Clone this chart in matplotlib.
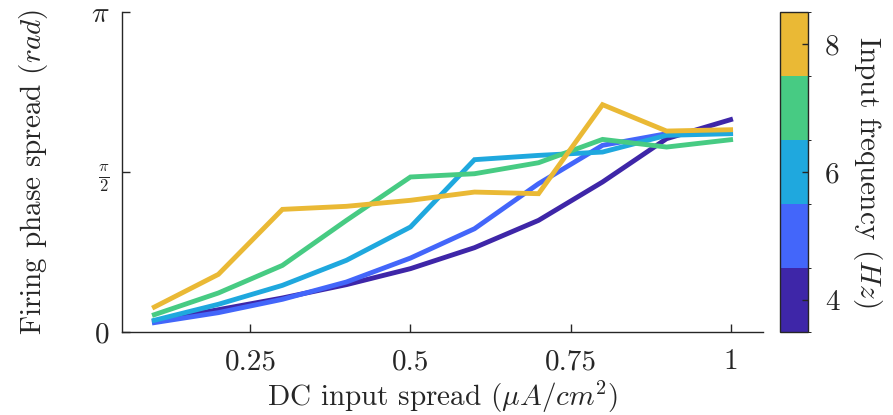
import numpy as np
import matplotlib
matplotlib.use("Agg")
import matplotlib.pyplot as plt
from matplotlib.colors import ListedColormap, BoundaryNorm
from matplotlib.cm import ScalarMappable

plt.rcParams['font.family'] = 'serif'
plt.rcParams['font.serif'] = ['cmr10', 'DejaVu Serif']
plt.rcParams['mathtext.fontset'] = 'cm'
plt.rcParams['axes.unicode_minus'] = False

# data
dc_spread = [0.1, 0.2, 0.3, 0.4, 0.5, 0.6, 0.7, 0.8, 0.9, 1.0]
freqs = [4, 5, 6, 7, 8]
spread_4hz = [0.108, 0.219, 0.334, 0.465, 0.622, 0.828, 1.096, 1.473, 1.898, 2.085]
spread_5hz = [0.092, 0.190, 0.321, 0.491, 0.726, 1.014, 1.456, 1.833, 1.947, 1.953]
spread_6hz = [0.115, 0.272, 0.458, 0.704, 1.031, 1.692, 1.734, 1.767, 1.931, 1.947]
spread_7hz = [0.170, 0.383, 0.654, 1.096, 1.522, 1.554, 1.662, 1.891, 1.816, 1.888]
spread_8hz = [0.245, 0.566, 1.204, 1.234, 1.293, 1.374, 1.358, 2.232, 1.973, 1.986]
colors = ['#3e26a8', '#4366fa', '#1fa8de', '#47cb83', '#eab935']

fs = 21
fig = plt.figure(figsize=(8.93, 4.15), dpi=100)
ax = fig.add_axes([0.137, 0.2, 0.717, 0.771])

series = [spread_4hz, spread_5hz, spread_6hz, spread_7hz, spread_8hz]
for ys, c in zip(series, colors):
    ax.plot(dc_spread, ys, color=c, lw=3.5, solid_joinstyle='miter')

ax.set_xlim(0.05, 1.05)
ax.set_ylim(0, np.pi)
ax.set_xticks([0.25, 0.5, 0.75, 1])
ax.set_xticklabels(['0.25', '0.5', '0.75', '1'])
ax.set_yticks([0, np.pi / 2, np.pi])
ax.set_yticklabels(['0', r'$\frac{\pi}{2}$', r'$\pi$'])
for s in ['top', 'right']:
    ax.spines[s].set_visible(False)
for s in ['left', 'bottom']:
    ax.spines[s].set_color('#262626')
    ax.spines[s].set_linewidth(1.0)
ax.tick_params(direction='in', length=6, width=1, labelsize=fs, colors='#262626')
ax.tick_params(axis='x', pad=12)
ax.tick_params(axis='y', pad=9)
ax.get_yticklabels()[1].set_fontsize(17)
ax.set_xlabel(r'DC input spread ($\mu A/cm^2$)', fontsize=fs, color='#262626', labelpad=3)
ax.set_ylabel(r'Firing phase spread ($rad$)', fontsize=fs, color='#262626', labelpad=30)

cax = fig.add_axes([0.873, 0.2, 0.032, 0.771])
cmap = ListedColormap(colors)
norm = BoundaryNorm([3.5, 4.5, 5.5, 6.5, 7.5, 8.5], cmap.N)
sm = ScalarMappable(norm=norm, cmap=cmap)
cb = fig.colorbar(sm, cax=cax, ticks=[4, 6, 8])
cb.outline.set_linewidth(1.0)
cb.outline.set_edgecolor('#262626')
cax.tick_params(direction='in', length=4, width=1, labelsize=fs, colors='#262626', pad=12)
cb.set_label(r'Input frequency ($Hz$)', fontsize=fs, rotation=270,
             labelpad=32, color='#262626')

fig.savefig('out.png', dpi=100)
